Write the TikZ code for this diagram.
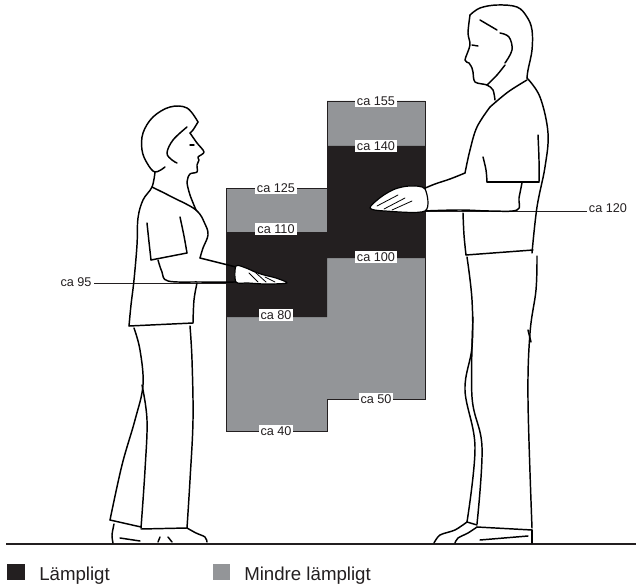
\documentclass[tikz,border=0pt]{standalone}
\usepackage{fontspec}
\setmainfont{Liberation Sans}
\definecolor{lampl}{HTML}{231F20}
\definecolor{mindre}{HTML}{939598}
\tikzset{
  mark label/.style={fill=white, inner sep=1.5pt, text=lampl, font=\fontsize{9.5}{10}\selectfont},
  side label/.style={inner sep=1.5pt, text=lampl, font=\fontsize{9.5}{10}\selectfont},
  outline/.style={line width=1.1pt, line join=round, line cap=round},
  legsq/.style={minimum width=13pt, minimum height=12pt, inner sep=0pt},
  legtext/.style={font=\fontsize{14}{16}\selectfont, inner sep=0pt, anchor=base west, text=lampl}
}
\begin{document}
\begin{tikzpicture}[x=0.75pt, y=-0.75pt]
    \useasboundingbox (0,0) rectangle (636,585);
    % Working heights
    \fill[mindre, draw=lampl, line width=0.5pt] (226,188) -- (327,188) -- (327,101) -- (425,101) -- (425,399)
        -- (327,399) -- (327,431) -- (226,431) -- cycle;
    \fill[lampl] (226,232) -- (327,232) -- (327,146) -- (425,146) -- (425,258) -- (327,258) -- (327,317) -- (226,317) -- cycle;
    % Floor
    \draw[line width=1pt, lampl] (6,544) -- (636,544);
    % Hand heights
    \node[side label] (ca95) at (76,282) {ca 95};
    \coordinate (hand95) at (226,283);
    \draw[lampl, line width=0.6pt] (hand95) -- (hand95 -| ca95.east);
    \node[side label] (ca120) at (608,208) {ca 120};
    \coordinate (hand120) at (425,211);
    \draw[lampl, line width=0.6pt] (hand120) -- (hand120 -| ca120.west);
    % Woman
    \begin{scope}[outline]
        \draw plot[smooth, tension=.6] coordinates {(198,122) (187,108) (170,107) (153,117) (143,133) (142,150) (147,163) (155,172) (165,167)};
        \draw plot[smooth, tension=.6] coordinates {(198,122) (193,130) (190,133)};
        \draw plot[smooth, tension=.6] coordinates {(187,127) (173,140) (167,153) (172,160) (177,163)};
        \draw plot[smooth, tension=.5] coordinates {(190,133) (197,143) (204,152) (198,157) (199,160) (197,165) (197,172) (190,174) (187,182) (190,195) (196,210)};
        \draw (190,145) -- (194,145);
        \draw plot[smooth, tension=.6] coordinates {(155,172) (152,187) (143,200) (138,218) (137,245) (134,280) (131,305) (129,326)};
        \draw plot[smooth, tension=.6] coordinates {(152,187) (172,197) (196,210) (205,224) (208,235) (203,248) (200,258)};
        \draw plot[smooth, tension=.6] coordinates {(147,223) (149,242) (151,260)};
        \draw plot[smooth, tension=.6] coordinates {(180,217) (184,236) (187,253)};
        \draw (151,260) -- (187,253);
        \draw plot[smooth, tension=.6] coordinates {(158,260) (162,272) (168,281) (200,282) (236,282)};
        \draw plot[smooth, tension=.6] coordinates {(200,258) (220,263) (236,267)};
        \draw plot[smooth, tension=.6] coordinates {(197,283) (194,300) (193,323)};
        % hand
        \filldraw[fill=white, line width=0.9pt] plot[smooth cycle, tension=.5] coordinates {(236,266) (246,268) (255,272) (264,275) (276,278) (287,283) (266,284) (248,283) (236,282)};
        \draw[line width=0.6pt] (249,273) -- (258,282) (256,273) -- (266,282) (265,277) -- (275,282);
        % trousers
        \draw (129,326) -- (193,323);
        \draw plot[smooth, tension=.6] coordinates {(134,328) (140,350) (143,385) (135,420) (122,465) (110,520)};
        \draw plot[smooth, tension=.6] coordinates {(142,385) (147,420) (145,470) (141,528)};
        \draw plot[smooth, tension=.6] coordinates {(190,326) (192,360) (193,420) (190,480) (187,528)};
        \draw (110,520) -- (141,527);
        \draw (141,529) -- (187,528);
        % shoes
        \draw plot[smooth, tension=.5] coordinates {(114,524) (112,535) (113,543)};
        \draw (120,538) -- (140,541);
        \draw plot[smooth, tension=.5] coordinates {(187,528) (196,533) (205,537) (207,542)};
        \draw (158,542) -- (160,537) (168,537) -- (172,542);
    \end{scope}
    % Man
    \begin{scope}[outline]
        \draw plot[smooth, tension=.6] coordinates {(470,15) (480,8) (497,5) (517,7) (527,17) (532,30) (532,50) (528,70) (527,78)};
        \draw plot[smooth, tension=.5] coordinates {(470,15) (468,33) (470,45) (465,60) (469,63) (472,68) (473,72) (475,82) (487,85) (493,90) (495,100)};
        \draw plot[smooth, tension=.6] coordinates {(480,20) (497,30)};
        \draw plot[smooth, tension=.6] coordinates {(500,33) (509,37) (512,50) (505,63)};
        \draw plot[smooth, tension=.6] coordinates {(487,85) (497,75) (505,65)};
        \draw (472,45) -- (478,46);
        \draw plot[smooth, tension=.6] coordinates {(527,78) (540,97) (548,133) (545,167) (537,207) (532,253)};
        \draw plot[smooth, tension=.6] coordinates {(490,107) (508,92) (527,80)};
        \draw plot[smooth, tension=.6] coordinates {(490,107) (477,127) (470,150) (465,173)};
        \draw plot[smooth, tension=.6] coordinates {(483,157) (486,170) (487,182)};
        \draw plot[smooth, tension=.6] coordinates {(538,135) (539,160) (539,182)};
        \draw (487,182) -- (539,182);
        \draw plot[smooth, tension=.6] coordinates {(522,183) (519,198) (517,210) (490,211) (460,210) (423,211)};
        \draw plot[smooth, tension=.6] coordinates {(465,173) (450,179) (435,184) (423,189)};
        \draw plot[smooth, tension=.6] coordinates {(463,213) (464,235) (466,255)};
        % hand
        \filldraw[fill=white, line width=0.9pt] plot[smooth cycle, tension=.5] coordinates {(425,189) (410,186) (395,189) (381,197) (370,208) (385,211) (425,211)};
        \draw[line width=0.6pt] (377,206) -- (398,195) (384,209) -- (405,198) (392,210) -- (412,201);
        % trousers
        \draw (466,255) -- (533,250);
        \draw plot[smooth, tension=.6] coordinates {(467,257) (472,300) (472,347) (465,390) (475,447) (467,522)};
        \draw plot[smooth, tension=.6] coordinates {(473,317) (472,397) (482,447) (477,524)};
        \draw plot[smooth, tension=.6] coordinates {(537,256) (536,290) (530,333) (528,400) (532,528)};
        \draw (528,330) -- (531,342);
        \draw (467,522) -- (477,525);
        \draw (477,527) -- (532,530);
        % shoes
        \draw plot[smooth, tension=.5] coordinates {(467,522) (455,530) (440,535) (434,543)};
        \draw plot[smooth, tension=.5] coordinates {(477,527) (468,533) (458,538) (455,543)};
        \draw (532,530) -- (532,543);
        \draw (480,540) -- (528,536);
    \end{scope}
    % Labels
    \foreach \x/\y/\h in {276/188/125, 276/229/110, 276/315/80, 276/431/40, 376/101/155, 376/146/140, 376/257/100, 376/399/50}
    {
        \node[mark label] (ca\h) at (\x,\y) {ca \h};
    }
    % Legend
    \node[legsq, fill=lampl] (sqgood) at (16,571.5) {};
    \node[legtext] (txtgood) at (39,580) {Lämpligt};
    \node[legsq, fill=mindre] (sqless) at (221.5,571.5) {};
    \node[legtext] (txtless) at (244,580) {Mindre lämpligt};
\end{tikzpicture}
\end{document}
